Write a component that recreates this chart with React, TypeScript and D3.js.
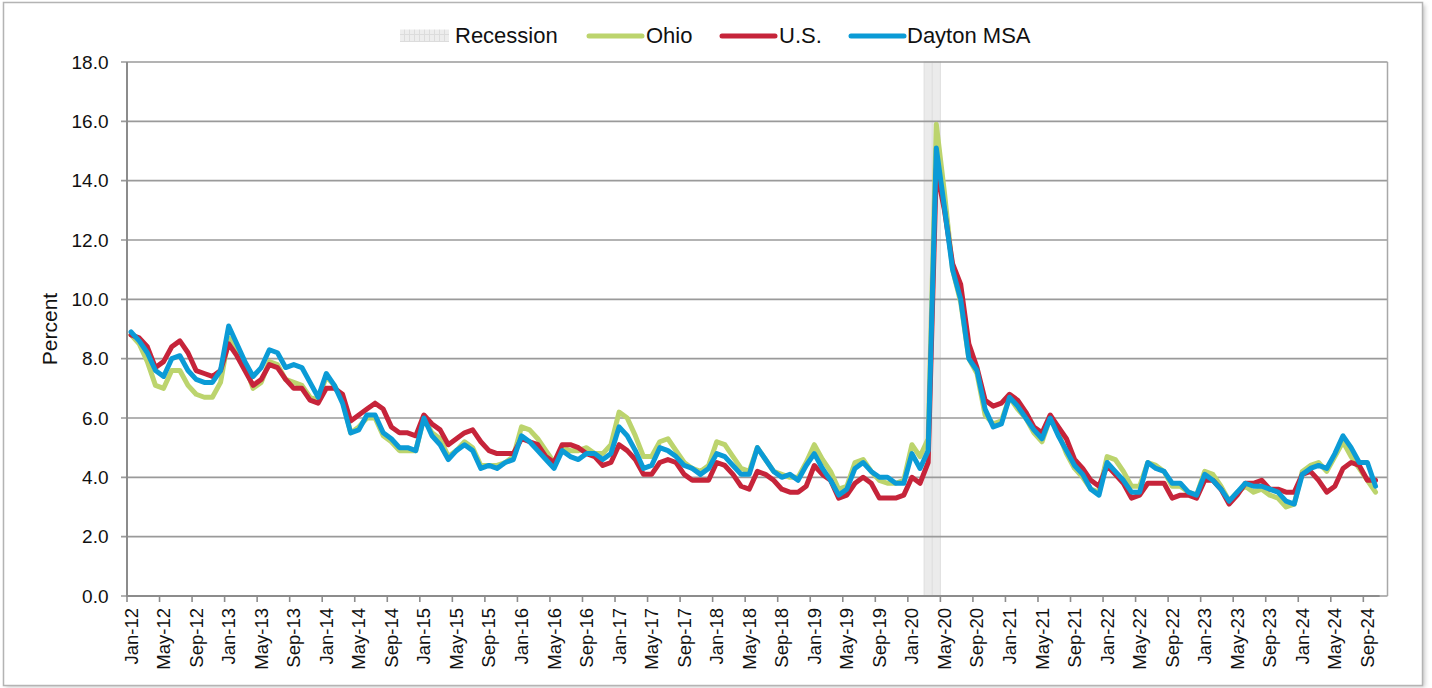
import React from 'react';
import * as d3 from 'd3';

// ---------- DATA ----------
const monthNames = ['Jan', 'Feb', 'Mar', 'Apr', 'May', 'Jun', 'Jul', 'Aug', 'Sep', 'Oct', 'Nov', 'Dec'];
const years = ['12', '13', '14', '15', '16', '17', '18', '19', '20', '21', '22', '23', '24'];
const lastCategory = 'Oct-24';
const categories: string[] = (() => {
  const out: string[] = [];
  for (const y of years) {
    for (const m of monthNames) {
      out.push(`${m}-${y}`);
      if (`${m}-${y}` === lastCategory) return out;
    }
  }
  return out;
})();

const ohio = [
  8.8, 8.5, 7.9, 7.1, 7.0, 7.6, 7.6, 7.1, 6.8, 6.7, 6.7, 7.2,
  8.7, 8.3, 7.8, 7.0, 7.2, 7.9, 7.8, 7.3, 7.2, 7.1, 6.7, 6.6,
  7.4, 7.1, 6.6, 5.5, 5.7, 6.0, 6.0, 5.4, 5.2, 4.9, 4.9, 4.9,
  6.0, 5.5, 5.3, 4.7, 4.9, 5.2, 5.0, 4.4, 4.4, 4.4, 4.5, 4.7,
  5.7, 5.6, 5.3, 4.9, 4.5, 5.0, 4.9, 4.9, 5.0, 4.8, 4.8, 5.1,
  6.2, 6.0, 5.4, 4.7, 4.7, 5.2, 5.3, 4.9, 4.5, 4.3, 4.2, 4.4,
  5.2, 5.1, 4.7, 4.3, 4.2, 5.0, 4.6, 4.2, 4.1, 4.0, 4.0, 4.5,
  5.1, 4.6, 4.2, 3.6, 3.7, 4.5, 4.6, 4.2, 3.9, 3.8, 3.8, 3.9,
  5.1, 4.7, 5.3, 15.9, 13.6, 11.0, 9.9, 8.0, 7.5, 6.1, 5.8, 5.9,
  6.7, 6.3, 6.0, 5.5, 5.2, 6.0, 5.5, 4.8, 4.3, 4.0, 3.6, 3.5,
  4.7, 4.6, 4.2, 3.7, 3.7, 4.5, 4.4, 4.2, 3.7, 3.7, 3.5, 3.4,
  4.2, 4.1, 3.7, 3.2, 3.5, 3.7, 3.5, 3.6, 3.4, 3.3, 3.0, 3.1,
  4.2, 4.4, 4.5, 4.2, 4.7, 5.2, 4.7, 4.3, 3.9, 3.5,
];

const us = [
  8.8, 8.7, 8.4, 7.7, 7.9, 8.4, 8.6, 8.2, 7.6, 7.5, 7.4, 7.6,
  8.5, 8.1, 7.6, 7.1, 7.3, 7.8, 7.7, 7.3, 7.0, 7.0, 6.6, 6.5,
  7.0, 7.0, 6.8, 5.9, 6.1, 6.3, 6.5, 6.3, 5.7, 5.5, 5.5, 5.4,
  6.1, 5.8, 5.6, 5.1, 5.3, 5.5, 5.6, 5.2, 4.9, 4.8, 4.8, 4.8,
  5.3, 5.2, 5.1, 4.7, 4.5, 5.1, 5.1, 5.0, 4.8, 4.7, 4.4, 4.5,
  5.1, 4.9, 4.6, 4.1, 4.1, 4.5, 4.6, 4.5, 4.1, 3.9, 3.9, 3.9,
  4.5, 4.4, 4.1, 3.7, 3.6, 4.2, 4.1, 3.9, 3.6, 3.5, 3.5, 3.7,
  4.4, 4.1, 3.9, 3.3, 3.4, 3.8, 4.0, 3.8, 3.3, 3.3, 3.3, 3.4,
  4.0, 3.8, 4.5, 14.4, 13.0, 11.2, 10.5, 8.5, 7.7, 6.6, 6.4, 6.5,
  6.8, 6.6, 6.2, 5.7, 5.5, 6.1, 5.7, 5.3, 4.6, 4.3, 3.9, 3.7,
  4.4, 4.1, 3.8, 3.3, 3.4, 3.8, 3.8, 3.8, 3.3, 3.4, 3.4, 3.3,
  3.9, 3.9, 3.6, 3.1, 3.4, 3.8, 3.8, 3.9, 3.6, 3.6, 3.5, 3.5,
  4.1, 4.2, 3.9, 3.5, 3.7, 4.3, 4.5, 4.4, 3.9, 3.9,
];

const dayton = [
  8.9, 8.6, 8.2, 7.6, 7.4, 8.0, 8.1, 7.6, 7.3, 7.2, 7.2, 7.6,
  9.1, 8.5, 7.9, 7.4, 7.7, 8.3, 8.2, 7.7, 7.8, 7.7, 7.2, 6.7,
  7.5, 7.1, 6.5, 5.5, 5.6, 6.1, 6.1, 5.5, 5.3, 5.0, 5.0, 4.9,
  6.0, 5.4, 5.1, 4.6, 4.9, 5.1, 4.9, 4.3, 4.4, 4.3, 4.5, 4.6,
  5.4, 5.2, 4.9, 4.6, 4.3, 4.9, 4.7, 4.6, 4.8, 4.8, 4.6, 4.8,
  5.7, 5.4, 4.9, 4.3, 4.4, 5.0, 4.9, 4.7, 4.4, 4.3, 4.1, 4.3,
  4.8, 4.7, 4.4, 4.1, 4.1, 5.0, 4.6, 4.2, 4.0, 4.1, 3.9, 4.4,
  4.8, 4.3, 3.9, 3.4, 3.6, 4.3, 4.5, 4.2, 4.0, 4.0, 3.8, 3.8,
  4.8, 4.3, 4.9, 15.1, 13.1, 11.0, 10.0, 8.0, 7.6, 6.3, 5.7, 5.8,
  6.7, 6.4, 6.0, 5.6, 5.3, 6.0, 5.4, 4.9, 4.4, 4.1, 3.6, 3.4,
  4.5, 4.2, 3.9, 3.5, 3.5, 4.5, 4.3, 4.2, 3.8, 3.8, 3.5, 3.4,
  4.1, 3.9, 3.6, 3.2, 3.5, 3.8, 3.7, 3.7, 3.6, 3.5, 3.2, 3.1,
  4.1, 4.3, 4.4, 4.3, 4.8, 5.4, 5.0, 4.5, 4.5, 3.7,
];

const recessionMonths = ['Mar-20', 'Apr-20'];
const yTicks = [0, 2, 4, 6, 8, 10, 12, 14, 16, 18];
const tickEvery = 4;

const seriesList = [
  { name: 'Ohio', values: ohio, color: '#bcd46d' },
  { name: 'U.S.', values: us, color: '#c6243a' },
  { name: 'Dayton MSA', values: dayton, color: '#0b9bd6' },
];

// ---------- LAYOUT ----------
const W = 1432;
const H = 688;
const plotLeft = 127;
const plotRight = 1387.5;
const axisEnd = 1379.6;
const plotTop = 62;
const plotBottom = 596;
const FONT = "'Liberation Sans', Arial, Helvetica, sans-serif";

export default function App() {
  const x = d3.scaleBand<string>().domain(categories).range([plotLeft, axisEnd]).padding(0);
  const bw = x.bandwidth();
  const y = d3.scaleLinear().domain([0, 18]).range([plotBottom, plotTop]);

  const line = d3
    .line<number>()
    .x((_, i) => (x(categories[i]) as number) + bw / 2)
    .y((d) => y(d));

  const tickCats = categories.filter((_, i) => i % tickEvery === 0);

  const legendY = 36;
  const legendItems = [
    { name: 'Ohio', color: seriesList[0].color, x0: 589, x1: 642, tx: 646 },
    { name: 'U.S.', color: seriesList[1].color, x0: 722, x1: 775, tx: 779 },
    { name: 'Dayton MSA', color: seriesList[2].color, x0: 851, x1: 904, tx: 907 },
  ];

  return (
    <svg
      width={W}
      height={H}
      viewBox={`0 0 ${W} ${H}`}
      style={{ position: 'fixed', left: 0, top: 0, display: 'block', background: '#fff' }}
      fontFamily={FONT}
    >
      <defs>
        <filter id="shadow" x="-5%" y="-5%" width="110%" height="110%">
          <feGaussianBlur stdDeviation="2" />
        </filter>
        <pattern id="recPat" width="5" height="7" patternUnits="userSpaceOnUse">
          <rect width="5" height="7" fill="#ededed" />
          <path d="M4.5 0 V7 M0 6.5 H5" stroke="#dcdcdc" strokeWidth="1" />
        </pattern>
      </defs>

      {/* frame */}
      <rect x={6} y={5} width={1419} height={682} fill="#c8c8c8" filter="url(#shadow)" />
      <rect x={3.5} y={2.5} width={1419} height={683} fill="#fff" stroke="#b4b4b4" strokeWidth={1.5} />

      {/* recession bars */}
      {recessionMonths.map((m) => (
        <rect
          key={m}
          x={x(m) as number}
          y={plotTop}
          width={bw}
          height={plotBottom - plotTop}
          fill="#ebebeb"
          stroke="#dedede"
          strokeWidth={1}
        />
      ))}

      {/* gridlines */}
      {yTicks.map((t) => (
        <line
          key={t}
          x1={plotLeft - 6}
          x2={plotRight}
          y1={y(t)}
          y2={y(t)}
          stroke="#9a9a9a"
          strokeWidth={1.6}
        />
      ))}

      {/* plot right border */}
      <line x1={plotRight} x2={plotRight} y1={plotTop} y2={plotBottom} stroke="#a8a8a8" strokeWidth={1.5} />

      {/* y axis */}
      <line x1={plotLeft} x2={plotLeft} y1={plotTop} y2={plotBottom + 0.8} stroke="#8c8c8c" strokeWidth={2} />
      {yTicks.map((t) => (
        <text
          key={t}
          x={108.5}
          y={y(t)}
          dy="0.35em"
          textAnchor="end"
          fontSize={19}
          fill="#111"
        >
          {t.toFixed(1)}
        </text>
      ))}
      <text
        transform={`translate(57, ${(plotTop + plotBottom) / 2}) rotate(-90)`}
        textAnchor="middle"
        fontSize={21}
        fill="#111"
      >
        Percent
      </text>

      {/* x axis */}
      <line x1={plotLeft} x2={axisEnd} y1={plotBottom} y2={plotBottom} stroke="#8c8c8c" strokeWidth={2} />
      {tickCats.map((c) => (
        <line
          key={c}
          x1={x(c) as number}
          x2={x(c) as number}
          y1={plotBottom}
          y2={plotBottom + 6}
          stroke="#8c8c8c"
          strokeWidth={1.6}
        />
      ))}
      {tickCats.map((c) => (
        <text
          key={c}
          transform={`translate(${(x(c) as number) + bw / 2}, 608) rotate(-90)`}
          textAnchor="end"
          dy="0.35em"
          fontSize={18.5}
          fill="#111"
        >
          {c}
        </text>
      ))}

      {/* series lines */}
      {seriesList.map((s) => (
        <path
          key={s.name}
          d={line(s.values) as string}
          fill="none"
          stroke={s.color}
          strokeWidth={5}
          strokeLinejoin="round"
          strokeLinecap="round"
        />
      ))}

      {/* legend */}
      <rect x={400} y={29.5} width={49} height={12.5} fill="url(#recPat)" />
      <text x={455} y={43} fontSize={22} fill="#111">
        Recession
      </text>
      {legendItems.map((l) => (
        <g key={l.name}>
          <line
            x1={l.x0}
            x2={l.x1}
            y1={legendY}
            y2={legendY}
            stroke={l.color}
            strokeWidth={5}
            strokeLinecap="round"
          />
          <text x={l.tx} y={43} fontSize={22} fill="#111">
            {l.name}
          </text>
        </g>
      ))}
    </svg>
  );
}
